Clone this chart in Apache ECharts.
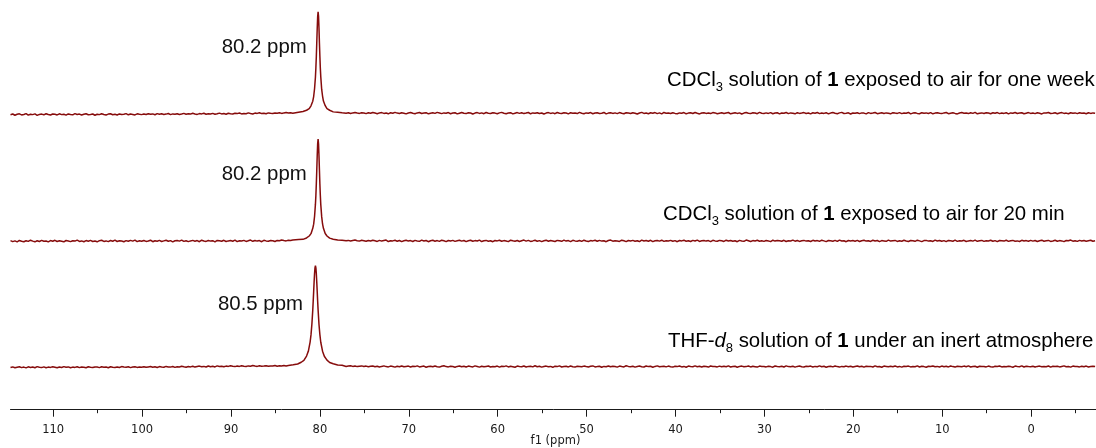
<!DOCTYPE html>
<html>
<head>
<meta charset="utf-8">
<script src="https://cdn.jsdelivr.net/npm/echarts@6/dist/echarts.min.js"></script>
<style>html,body{margin:0;padding:0;background:#fff}#c{width:1096px;height:448px}</style>
</head>
<body>
<div id="c"></div>
<script>
// ---- data (intensity, peak = 100) ----
const ppmStart = 114.8, ppmStep = 0.25; // baseline sampling grid (ppm, descending)
const majorTicks = [110, 100, 90, 80, 70, 60, 50, 40, 30, 20, 10, 0];
const minorTicks = [105, 95, 85, 75, 65, 55, 45, 35, 25, 15, 5, -5];

const noiseTop = [
-1.3,-0.6,-1.8,-0.9,-0.4,-1.5,-1.1,-0.2,-1.7,-0.8,-1.2,-0.5,-1.9,-1.0,-0.7,-1.4,-0.3,-1.1,-1.6,-0.6,
-0.9,-1.5,-0.4,-1.2,-0.8,-1.7,-0.5,-1.0,-1.4,-0.2,-1.1,-0.7,-1.6,-0.9,-0.4,-1.3,-1.0,-0.6,-1.8,-0.8,
-1.2,-0.3,-1.0,-1.5,-0.7,-0.4,-1.3,-0.9,-1.6,-0.5,-1.1,-0.8,-0.2,-1.4,-0.6,-1.0,-1.5,-0.4,-0.9,-1.2,
-0.6,-1.1,-0.3,-0.9,-0.5,-1.3,-0.2,-0.8,-0.4,-1.0,-0.7,-0.1,-1.2,-0.5,-0.8,-0.3,-1.0,-0.6,0.0,-0.9,
-0.4,-0.7,0.1,-0.6,-1.0,-0.2,-0.5,0.2,-0.8,-0.3,-0.6,0.0,-0.9,-0.4,0.3,-0.5,-0.1,-0.8,0.1,-0.3,
-0.6,0.2,-0.2,0.4,-0.5,0.0,-0.3,0.5,-0.1,-0.6,0.3,0.0,0.6,-0.2,0.2,-0.4,0.5,0.1,-0.1,0.4,
0.2,0.7,0.0,0.5,0.9,0.3,0.6,0.1,0.5,0.8,0.3,0.6,0.4,0.7,0.2,0.5,0.6,0.3,0.4,0.5,
0.4,0.6,0.2,0.5,0.3,0.7,0.4,0.1,0.6,0.3,0.8,0.2,0.6,-0.1,0.5,0.9,0.3,0.0,0.7,0.4,
-0.2,0.6,0.1,0.9,0.3,-0.3,0.5,0.8,0.0,0.4,-0.4,0.7,0.2,1.0,0.3,-0.1,0.6,0.2,-0.5,0.4,
0.8,0.1,-0.3,0.5,0.9,-0.1,0.3,0.7,-0.4,0.2,0.6,0.0,1.0,0.4,-0.2,0.5,0.1,0.8,-0.3,0.3,
0.6,-0.5,0.2,0.9,0.1,-0.2,0.7,0.4,-0.6,0.3,0.8,0.0,0.5,-0.3,0.9,0.2,-0.1,0.6,0.3,-0.4,
0.5,1.0,0.1,-0.3,0.4,0.7,-0.5,0.2,0.8,0.0,0.6,-0.2,0.3,0.9,-0.4,0.5,0.1,0.7,-0.1,0.4,
-0.6,0.3,0.8,0.0,0.5,-0.3,0.9,0.2,-0.1,0.6,0.4,-0.5,0.7,0.1,0.3,-0.2,1.0,0.2,-0.4,0.5,
0.1,0.8,-0.3,0.4,0.6,-0.1,0.2,0.9,-0.5,0.3,0.7,0.0,0.5,-0.2,0.8,0.1,-0.4,0.6,0.3,-0.1,
0.7,0.2,-0.6,0.4,1.0,0.0,0.3,-0.3,0.6,0.1,0.8,-0.2,0.5,-0.5,0.9,0.2,0.4,-0.1,0.7,0.0,
-0.3,0.5,0.2,0.8,-0.4,0.3,0.6,-0.1,0.9,0.1,-0.5,0.4,0.7,0.0,0.3,-0.2,0.8,0.5,-0.3,0.2,
0.6,-0.1,0.4,0.9,-0.4,0.2,0.7,0.0,0.5,-0.6,0.3,0.8,0.1,-0.2,0.6,0.4,-0.3,1.0,0.2,-0.1,
0.5,0.0,0.8,-0.3,0.3,0.6,-0.5,0.4,0.1,0.9,-0.2,0.5,0.2,-0.4,0.7,0.0,0.3,0.8,-0.1,0.4,
-0.5,0.6,0.2,0.9,-0.2,0.4,0.0,0.7,-0.4,0.3,0.8,0.1,-0.3,0.5,1.0,-0.1,0.2,0.6,-0.6,0.4,
0.1,0.7,-0.2,0.5,0.3,-0.5,0.8,0.0,0.4,0.9,-0.3,0.2,0.6,-0.1,0.5,0.1,-0.4,0.7,0.3,0.0,
0.8,-0.2,0.4,0.1,0.9,-0.5,0.3,0.6,0.0,-0.3,0.7,0.2,0.5,-0.1,0.8,-0.4,0.3,0.6,0.1,-0.2,
0.5,0.9,-0.3,0.2,0.7,0.0,-0.5,0.4,0.8,0.1,0.3,-0.2,0.6,0.0,1.0,-0.4,0.2,0.5,-0.1,0.7,
0.3,-0.3,0.6,0.1,0.8,-0.2,0.4,0.0,0.7,-0.5,0.5,0.2,0.9,-0.1,0.3,0.6,-0.4,0.2,0.8,0.0,
0.4,-0.2,0.7,0.1,-0.5,0.5,0.3,0.9,-0.1,0.2,0.6,-0.3,0.4,0.8,0.0,0.3,-0.4,0.6,0.1,0.5,
-0.2,0.7,0.2,0.4,-0.3,0.6,0.0,0.5,0.2];
const noiseMid = [
0.4,-0.6,0.1,-0.9,0.5,-0.2,-0.7,0.3,-0.4,0.8,-0.1,-0.8,0.2,-0.5,0.6,-0.3,0.0,-0.9,0.4,-0.2,
0.7,-0.5,0.2,-0.3,-0.8,0.5,0.0,-0.6,0.3,-0.1,0.9,-0.4,0.1,-0.7,0.4,-0.2,0.6,-0.5,0.0,-0.8,
0.3,0.7,-0.4,0.1,-0.6,0.5,-0.2,0.8,-0.5,0.2,0.0,-0.7,0.4,-0.3,0.6,-0.1,0.9,-0.6,0.2,-0.3,
0.5,-0.4,0.0,0.8,-0.7,0.3,-0.2,0.6,-0.5,0.1,0.7,-0.3,0.4,-0.8,0.2,0.5,-0.1,0.9,-0.4,0.3,
-0.6,0.1,0.6,-0.2,0.4,-0.7,0.8,0.0,-0.4,0.5,-0.1,0.3,-0.8,0.6,0.2,-0.3,0.7,-0.5,0.1,0.4,
-0.2,0.8,-0.6,0.3,0.0,0.6,-0.4,0.2,0.9,-0.3,0.5,-0.1,0.4,-0.7,0.7,0.1,-0.2,0.5,0.3,-0.5,
0.6,0.2,0.9,0.4,0.1,0.7,0.5,1.0,0.6,0.4,0.8,0.3,0.5,0.7,0.2,0.6,0.4,0.5,0.3,0.6,
0.5,0.4,0.6,0.3,0.7,0.2,0.5,0.4,0.6,0.1,0.8,0.3,0.6,0.0,0.5,0.9,0.2,-0.1,0.7,0.3,
-0.3,0.5,0.0,0.8,0.2,-0.4,0.6,-0.1,0.4,0.9,-0.5,0.3,0.1,0.7,-0.2,0.5,-0.6,0.2,0.8,-0.1,
0.4,-0.5,0.6,0.1,-0.3,0.9,0.0,0.5,-0.7,0.3,0.7,-0.2,0.4,-0.4,0.8,0.2,-0.6,0.5,0.0,0.6,
-0.4,0.3,0.8,-0.1,0.5,-0.6,0.2,0.7,-0.3,0.4,0.0,0.9,-0.5,0.2,0.6,-0.2,0.3,-0.7,0.5,0.1,
0.7,-0.3,0.4,0.0,-0.6,0.8,0.2,-0.2,0.5,-0.5,0.3,0.9,-0.1,0.6,-0.4,0.1,0.7,-0.3,0.4,-0.6,
0.2,0.8,-0.2,0.5,0.0,-0.5,0.6,0.3,-0.3,0.9,-0.1,0.4,-0.6,0.7,0.1,-0.2,0.5,-0.4,0.8,0.0,
-0.5,0.4,0.1,0.7,-0.3,0.6,-0.1,0.2,-0.7,0.5,0.9,-0.2,0.3,0.0,-0.4,0.8,0.2,-0.6,0.5,0.1,
0.6,-0.3,0.3,-0.5,0.9,0.0,0.4,-0.2,0.7,-0.6,0.2,0.5,-0.1,0.8,-0.4,0.3,0.0,0.6,-0.3,0.4,
-0.7,0.5,0.1,0.8,-0.2,0.3,-0.5,0.6,0.0,0.9,-0.4,0.2,0.5,-0.1,0.4,-0.6,0.7,0.1,-0.3,0.6,
0.2,-0.4,0.8,0.0,0.5,-0.2,0.3,-0.7,0.6,0.1,-0.3,0.9,0.2,-0.5,0.4,0.0,0.7,-0.2,0.3,-0.4,
0.5,0.1,-0.6,0.8,-0.1,0.4,0.2,-0.3,0.7,-0.5,0.3,0.0,0.9,-0.2,0.5,-0.4,0.2,0.6,-0.1,0.3,
-0.5,0.7,0.0,0.4,-0.3,0.8,0.1,-0.6,0.5,0.2,-0.2,0.6,-0.4,0.9,0.0,0.3,-0.7,0.5,0.1,0.4,
-0.2,0.6,-0.5,0.3,0.8,-0.1,0.2,-0.4,0.7,0.0,0.5,-0.6,0.4,0.1,-0.3,0.9,-0.1,0.3,0.6,-0.4,
0.2,-0.2,0.7,0.0,-0.5,0.5,0.3,-0.3,0.8,0.1,-0.6,0.4,0.6,-0.1,0.2,-0.4,0.9,0.0,0.5,-0.3,
0.4,-0.6,0.6,0.2,-0.2,0.8,-0.4,0.3,0.0,0.7,-0.5,0.1,0.5,-0.1,0.9,-0.3,0.2,0.6,-0.4,0.3,
0.0,0.7,-0.3,0.4,-0.6,0.5,0.2,-0.1,0.8,-0.4,0.3,0.6,-0.2,0.1,-0.5,0.7,0.0,0.4,-0.3,0.6,
-0.1,0.5,-0.5,0.3,0.8,-0.2,0.2,0.6,-0.4,0.0,0.7,-0.3,0.4,0.1,-0.6,0.5,0.2,0.9,-0.2,0.3,
-0.4,0.6,0.0,0.5,-0.2,0.3,0.7,-0.3,0.2];
const noiseBot = [
-0.8,-0.2,-1.1,-0.5,0.0,-0.9,-0.4,-1.2,-0.1,-0.7,-0.3,-1.0,0.1,-0.6,-0.9,-0.2,-1.1,-0.4,-0.7,0.0,
-0.5,-1.0,-0.3,-0.8,0.1,-0.6,-0.2,-1.1,-0.4,-0.7,0.0,-0.9,-0.3,-0.5,-1.0,-0.1,-0.6,-0.8,-0.2,-0.4,
-0.9,-0.1,-0.6,-0.3,-1.0,0.0,-0.5,-0.7,-0.2,-0.8,0.1,-0.4,-0.6,-0.1,-0.9,-0.3,0.0,-0.7,-0.2,-0.5,
0.0,-0.6,-0.2,0.2,-0.5,-0.1,-0.8,0.1,-0.3,-0.6,0.3,-0.2,-0.4,0.2,-0.7,0.0,-0.3,0.4,-0.1,-0.5,
0.2,-0.2,0.5,-0.4,0.1,0.6,-0.1,0.3,-0.3,0.7,0.0,0.4,-0.2,0.8,0.2,0.5,-0.1,0.6,0.3,0.9,
0.4,0.1,0.7,0.3,1.0,0.5,0.2,0.8,0.4,1.1,0.6,0.3,0.9,0.5,0.7,1.0,0.4,0.8,0.6,1.2,
0.5,0.9,0.6,1.1,0.7,1.2,0.8,1.0,0.6,0.9,0.7,0.8,0.6,0.9,0.5,0.8,0.7,0.6,0.8,0.5,
0.6,0.5,0.7,0.4,0.6,0.5,0.3,0.6,0.4,0.5,0.8,0.2,0.6,0.9,0.3,0.7,0.1,0.5,0.8,0.2,
0.6,-0.1,0.4,0.7,0.0,0.5,-0.3,0.3,0.8,0.1,-0.2,0.6,0.2,-0.4,0.5,0.0,0.7,-0.1,0.3,0.6,
-0.3,0.4,0.1,0.8,-0.2,0.3,0.6,-0.5,0.2,0.5,-0.1,0.7,0.0,-0.4,0.4,0.9,0.1,-0.2,0.5,0.2,
-0.5,0.3,0.7,0.0,0.4,-0.3,0.6,0.1,-0.2,0.8,0.2,-0.4,0.5,-0.1,0.3,0.7,-0.3,0.2,0.0,0.6,
-0.4,0.5,0.1,0.8,-0.2,0.4,0.0,-0.5,0.6,0.2,-0.1,0.7,-0.3,0.3,0.5,-0.2,0.9,0.0,0.4,-0.4,
0.2,0.6,-0.1,0.3,-0.6,0.5,0.1,0.8,-0.3,0.2,0.4,-0.2,0.7,0.0,-0.4,0.5,0.3,-0.1,0.6,0.1,
-0.3,0.4,0.8,-0.2,0.1,0.5,-0.5,0.3,0.0,0.7,-0.1,0.4,0.2,-0.4,0.6,0.1,-0.2,0.9,0.3,-0.1,
0.5,-0.4,0.2,0.6,0.0,-0.3,0.7,0.1,0.4,-0.5,0.3,0.8,-0.1,0.2,0.5,-0.2,0.6,0.0,-0.4,0.4,
0.1,0.7,-0.2,0.3,-0.5,0.6,0.2,-0.1,0.8,0.0,0.4,-0.3,0.5,0.1,-0.4,0.7,0.2,0.3,-0.2,0.6,
-0.1,0.4,0.0,0.8,-0.3,0.2,0.5,-0.5,0.3,0.6,-0.1,0.1,0.7,-0.2,0.4,0.0,-0.4,0.6,0.2,0.3,
-0.2,0.5,0.1,-0.5,0.7,0.2,0.0,0.4,-0.3,0.8,0.1,-0.1,0.5,-0.4,0.3,0.6,0.0,-0.2,0.4,0.2,
0.6,-0.3,0.3,0.0,0.8,-0.1,0.4,-0.5,0.2,0.5,-0.2,0.7,0.1,-0.4,0.3,0.0,0.6,-0.1,0.4,-0.3,
0.2,0.7,-0.1,0.4,-0.4,0.5,0.1,0.3,-0.3,0.8,0.0,0.2,-0.5,0.6,0.3,-0.1,0.4,0.0,0.7,-0.2,
0.3,-0.4,0.5,0.1,0.6,-0.2,0.2,0.0,0.8,-0.3,0.4,0.1,-0.5,0.5,0.2,0.7,-0.1,0.3,-0.3,0.6,
0.0,0.4,-0.2,0.7,0.1,-0.4,0.5,0.3,-0.1,0.6,0.0,0.8,-0.3,0.2,0.4,-0.5,0.5,0.1,0.3,-0.2,
0.6,0.0,-0.4,0.4,0.2,0.7,-0.2,0.3,-0.1,0.5,0.1,-0.5,0.6,0.2,0.0,0.8,-0.3,0.4,0.1,-0.1,
0.5,-0.3,0.3,0.6,-0.1,0.2,0.0,0.7,-0.4,0.4,0.1,0.5,-0.2,0.3,0.8,-0.1,0.2,-0.4,0.6,0.1,
0.3,-0.2,0.5,0.0,0.6,-0.3,0.2,0.4,0.1];

const peakTopPpm = [82.9,82.4,81.9,81.5,81.2,81.0,80.8,80.7,80.6,80.5,80.45,80.4,80.35,80.3,80.25,80.2,80.15,80.1,80.05,80.0,79.95,79.9,79.8,79.7,79.6,79.4,79.2,78.9,78.5,78.0,77.5];
const peakTopVal = [0.9,1.2,1.9,3.1,4.6,7.5,12.0,16.6,24.2,35.8,44.9,55.7,69.4,83.2,95.0,100,95.4,83.8,69.0,56.1,44.5,36.2,23.8,17.1,12.1,7.6,4.6,3.1,1.5,1.2,0.6];
const peakMidPpm = [82.9,82.4,81.9,81.5,81.2,81.0,80.8,80.7,80.6,80.5,80.45,80.4,80.35,80.3,80.25,80.2,80.15,80.1,80.05,80.0,79.95,79.9,79.8,79.7,79.6,79.4,79.2,78.9,78.5,78.0,77.5];
const peakMidVal = [0.7,1.4,1.6,3.0,4.9,7.2,12.4,16.5,24.0,36.1,44.6,56.0,69.1,83.6,95.2,100,95.1,83.4,69.3,55.8,44.8,35.9,24.1,16.7,12.4,7.3,4.9,2.8,1.8,0.9,0.8];
const peakBotPpm = [83.5,83.0,82.5,82.1,81.8,81.5,81.3,81.1,81.0,80.9,80.8,80.75,80.7,80.65,80.6,80.55,80.5,80.45,80.4,80.35,80.3,80.25,80.2,80.1,80.0,79.9,79.7,79.5,79.2,78.9,78.5,78.0,77.5];
const peakBotVal = [1.2,1.9,2.7,4.4,6.3,10.5,15.2,24.4,31.5,42.0,56.1,65.0,74.2,83.8,92.0,97.9,100,97.8,92.1,83.6,74.4,64.8,56.3,41.8,31.7,24.2,15.4,10.3,6.5,4.2,2.9,1.7,1.4];

const peakLabels = ['80.2 ppm', '80.2 ppm', '80.5 ppm'];

// ---- build ----
function build(noise, pp, pv) {
  const lo = Math.min(...pp), hi = Math.max(...pp);
  const pts = [];
  noise.forEach((v, i) => {
    const x = +(ppmStart - i * ppmStep).toFixed(2);
    if (x > hi || x < lo) pts.push([x, v]);
  });
  pp.forEach((x, i) => pts.push([x, pv[i]]));
  pts.sort((a, b) => b[0] - a[0]);
  return pts;
}
const COLOR = '#860c0c';
const AXC = '#1a1a1a';
const grids = [
  { left: 10.5, right: 0, top: 11.7, height: 101.7 },
  { left: 10.5, right: 0, top: 139, height: 102 },
  { left: 10.5, right: 0, top: 265.7, height: 101 }
];
const xBase = { type: 'value', min: -7.3, max: 114.8, inverse: true, splitLine: { show: false } };
const xAxes = [
  Object.assign({}, xBase, { gridIndex: 0, show: false }),
  Object.assign({}, xBase, { gridIndex: 1, show: false }),
  Object.assign({}, xBase, {
    gridIndex: 2, position: 'bottom', offset: 43,
    axisLine: { show: true, onZero: false, lineStyle: { color: AXC, width: 1 } },
    axisTick: { show: true, customValues: majorTicks, length: 7, lineStyle: { color: AXC, width: 1 } },
    axisLabel: { show: true, customValues: majorTicks, margin: 14, fontFamily: 'DejaVu Sans', fontSize: 11.5, color: AXC }
  }),
  Object.assign({}, xBase, {
    gridIndex: 2, position: 'bottom', offset: 43,
    axisLine: { show: false, onZero: false },
    axisTick: { show: true, customValues: minorTicks, length: 3.5, lineStyle: { color: AXC, width: 1 } },
    axisLabel: { show: false }
  })
];
const yAxes = [0, 1, 2].map(i => ({ type: 'value', gridIndex: i, min: 0, max: 100, show: false }));
const datasets = [build(noiseTop, peakTopPpm, peakTopVal), build(noiseMid, peakMidPpm, peakMidVal), build(noiseBot, peakBotPpm, peakBotVal)];
const series = datasets.map((d, i) => ({
  type: 'line', xAxisIndex: i, yAxisIndex: i, data: d, showSymbol: false, clip: false,
  lineStyle: { color: COLOR, width: 1.5 }, animation: false
}));

const FS = 20.4;
const rich = {
  n: { fontFamily: 'Liberation Sans', fontSize: FS, color: '#111', lineHeight: 26 },
  b: { fontFamily: 'Liberation Sans', fontSize: FS, fontWeight: 'bold', color: '#111', lineHeight: 26 },
  i: { fontFamily: 'Liberation Sans', fontSize: FS, fontStyle: 'italic', color: '#111', lineHeight: 26 },
  s: { fontFamily: 'Liberation Sans', fontSize: 13, color: '#111', lineHeight: 13, verticalAlign: 'bottom' }
};
const rightLabels = [
  { text: '{n|CDCl}{s|3}{n| solution of }{b|1}{n| exposed to air for one week}', x: 667, y: 80.5 },
  { text: '{n|CDCl}{s|3}{n| solution of }{b|1}{n| exposed to air for 20 min}', x: 663, y: 214.5 },
  { text: '{n|THF-}{i|d}{s|8}{n| solution of }{b|1}{n| under an inert atmosphere}', x: 668, y: 341.5 }
];
const peakLabelPos = [{ x: 221.7, y: 47 }, { x: 221.7, y: 174 }, { x: 218, y: 304.5 }];

const graphic = [];
rightLabels.forEach(l => graphic.push({ type: 'text', x: l.x, y: l.y, style: { text: l.text, rich: rich, verticalAlign: 'middle', align: 'left' } }));
peakLabels.forEach((t, i) => graphic.push({ type: 'text', x: peakLabelPos[i].x, y: peakLabelPos[i].y,
  style: { text: t, fontFamily: 'Liberation Sans', fontSize: FS, fill: '#111', verticalAlign: 'middle', align: 'left' } }));
graphic.push({ type: 'text', x: 555.5, y: 440.6, style: { text: 'f1 (ppm)', fontFamily: 'DejaVu Sans', fontSize: 11.5, fill: AXC, align: 'center', verticalAlign: 'middle' } });

const chart = echarts.init(document.getElementById('c'), null, { renderer: 'canvas' });
chart.setOption({
  backgroundColor: '#fff', animation: false,
  grid: grids, xAxis: xAxes, yAxis: yAxes, series: series, graphic: graphic
});
</script>
</body>
</html>
